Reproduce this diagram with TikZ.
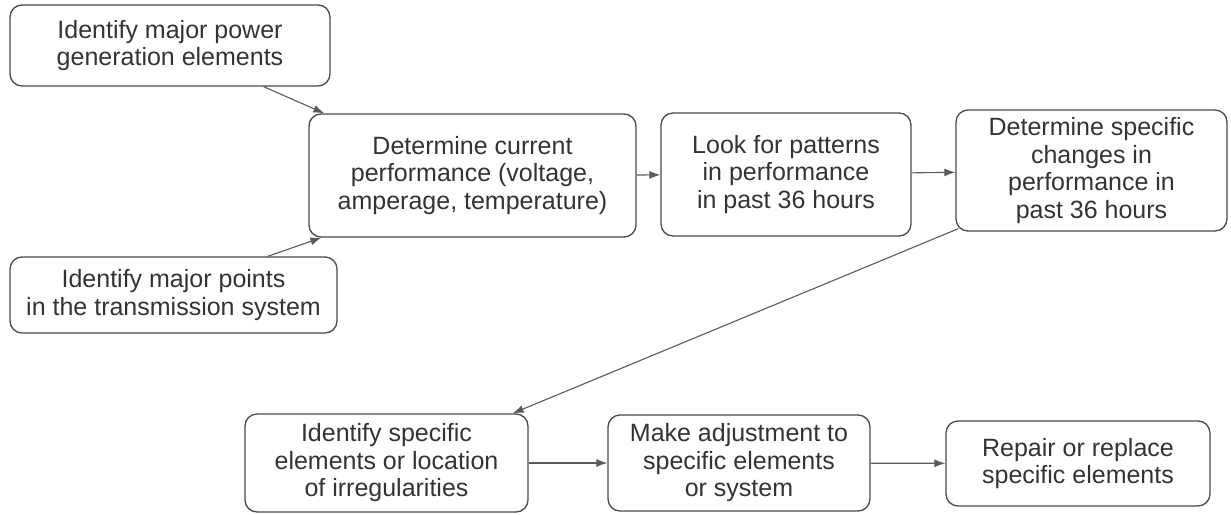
\documentclass[tikz,border=0pt]{standalone}
\usepackage{fontspec}
\setmainfont{Liberation Sans}
\usetikzlibrary{arrows.meta}

\definecolor{boxline}{HTML}{4A4A4A}
\definecolor{arrowline}{HTML}{5A5A5A}
\definecolor{boxtext}{HTML}{333333}

\begin{document}
\begin{tikzpicture}[x=1pt, y=-1pt,
	stepbox/.style={shape=rectangle, rounded corners=12pt, draw=boxline, line width=1.3pt,
		text=boxtext, align=center, inner sep=0pt,
		font=\fontsize{25}{27.5}\selectfont},
	flow/.style={draw=arrowline, line width=1.1pt, -{Latex[length=11pt,width=8pt]}}]

	\useasboundingbox (0, 0) rectangle (1231, 514);

	\node[stepbox, minimum width=320pt, minimum height=81pt] (gen) at (170, 45.5)
		{Identify major power\\generation elements};
	\node[stepbox, minimum width=327pt, minimum height=76pt] (trans) at (173.5, 295)
		{Identify major points\\in the transmission system};
	\node[stepbox, minimum width=327pt, minimum height=123pt] (curr) at (472.5, 175.5)
		{Determine current\\performance (voltage,\\amperage, temperature)};
	\node[stepbox, minimum width=250pt, minimum height=123pt] (patt) at (786, 174.5)
		{Look for patterns\\in performance\\in past 36 hours};
	\node[stepbox, minimum width=271pt, minimum height=121pt] (chg) at (1091.5, 170.5)
		{Determine specific\\changes in\\performance in\\past 36 hours};
	\node[stepbox, minimum width=283pt, minimum height=98pt] (loc) at (386.5, 463)
		{Identify specific\\elements or location\\of irregularities};
	\node[stepbox, minimum width=262pt, minimum height=96pt] (adj) at (739, 463)
		{Make adjustment to\\specific elements\\or system};
	\node[stepbox, minimum width=264pt, minimum height=85pt] (rep) at (1078, 463.5)
		{Repair or replace\\specific elements};

	\draw[flow] ([xshift=-67pt]gen.south east) -- ([xshift=16pt]curr.north west);
	\draw[flow] ([xshift=-70pt]trans.north east) -- ([xshift=13pt]curr.south west);
	\draw[flow] (curr) -- (patt);
	\draw[flow] (patt) -- (chg);
	\draw[flow] ([xshift=3pt,yshift=3pt]chg.south west) -- ([xshift=-16pt]loc.north east);
	\draw[flow] (loc) -- (adj);
	\draw[flow] (adj) -- (rep);

\end{tikzpicture}
\end{document}
